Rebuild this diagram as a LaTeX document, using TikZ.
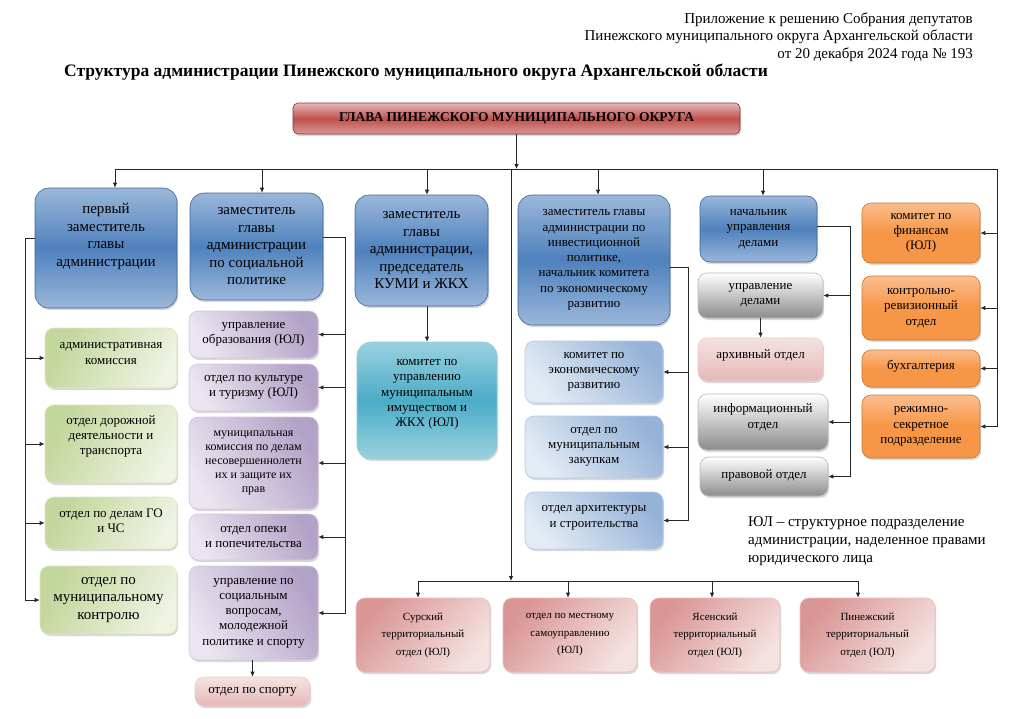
\documentclass[tikz,border=0pt]{standalone}
\usepackage{fontspec}
\setmainfont{Liberation Serif}
\usetikzlibrary{arrows.meta,shadows}
\definecolor{blueD}{HTML}{4F81BD}
\definecolor{blueL}{HTML}{9BB7DA}
\definecolor{redD}{HTML}{C0504D}
\definecolor{redL}{HTML}{E6B9B8}
\definecolor{greenD}{HTML}{C3D69B}
\definecolor{greenL}{HTML}{EEF3E2}
\definecolor{purpD}{HTML}{B3A2C7}
\definecolor{purpL}{HTML}{EAE5F0}
\definecolor{pinkD}{HTML}{D99694}
\definecolor{pinkL}{HTML}{F4E2E1}
\definecolor{greyD}{HTML}{8C8C8C}
\definecolor{orD}{HTML}{F79646}
\definecolor{orL}{HTML}{FBBE8E}
\definecolor{tealD}{HTML}{4BACC6}
\definecolor{tealL}{HTML}{9AD1E0}
\definecolor{iblueD}{HTML}{95B3D7}
\definecolor{iblueL}{HTML}{E3EBF5}
\tikzset{
  sz/.style 2 args={minimum width=#1pt,minimum height=#2pt},
  lift/.style={text depth=#1pt},
  box/.style={rounded corners=9pt,align=center,inner sep=2pt,line width=0.6pt,
    drop shadow={shadow xshift=1.2pt,shadow yshift=-2pt,opacity=.3}},
  big/.style={font=\fontsize{15}{17.5}\selectfont},
  mid/.style={font=\fontsize{13}{15.3}\selectfont},
  sml/.style={font=\fontsize{12}{14}\selectfont},
  chief/.style={box,rounded corners=5pt,draw=redD!70!black,top color=redL,bottom color=pinkD,middle color=redD,
    font=\bfseries\fontsize{13.5}{16}\selectfont},
  zam/.style={box,rounded corners=14pt,draw=blueD!80!black,top color=blueL,bottom color=blueL,middle color=blueD},
  grn/.style={box,draw=greenD!60,top color=greenD,bottom color=greenL,shading angle=60,mid},
  prp/.style={box,draw=purpD!60,top color=purpD,bottom color=purpL,shading angle=-60,mid},
  pnk/.style={box,draw=pinkD!60,top color=pinkD,bottom color=pinkL,shading angle=50,
    font=\fontsize{11}{17.5}\selectfont},
  lpnk/.style={box,draw=pinkD!50,top color=pinkL,bottom color=redL,mid},
  gry/.style={box,draw=greyD!60,top color=white,bottom color=greyD,mid},
  org/.style={box,draw=orD!80!black,top color=orL,bottom color=orD,middle color=orD,mid},
  tel/.style={box,rounded corners=14pt,draw=tealD!60,top color=tealL,bottom color=tealL,middle color=tealD,mid},
  ibl/.style={box,draw=iblueD!70,top color=iblueD,bottom color=iblueL,shading angle=-50,mid},
  hdr/.style={font=\fontsize{15}{17.5}\selectfont},
  wire/.style={black!85,line width=0.8pt},
  arr/.style={wire,-{Latex[length=5pt,width=4.5pt]}},
}
\begin{document}
\begin{tikzpicture}[x=1pt,y=-1pt]
  \useasboundingbox (0,0) rectangle (1024,718);
  \fill[white] (0,0) rectangle (1024,718);
  \node[hdr,anchor=north east,align=right,inner sep=0pt] (app) at (973,12.5) {Приложение к решению Собрания депутатов\\Пинежского муниципального округа Архангельской области\\от 20 декабря 2024 года № 193};
  \node[font=\bfseries\fontsize{17.5}{20}\selectfont,anchor=west,inner sep=0pt] (title) at (64,72) {Структура администрации Пинежского муниципального округа Архангельской области};
  \node[chief,sz={447}{31}] (head) at (516.5,118.5) {ГЛАВА ПИНЕЖСКОГО МУНИЦИПАЛЬНОГО ОКРУГА};
  \node[zam,big,lift=26,sz={142}{120}] (zam1) at (106,248) {первый\\заместитель\\главы\\администрации};
  \node[zam,big,sz={133}{107}] (zam2) at (256.5,246.5) {заместитель\\главы\\администрации\\по социальной\\политике};
  \node[zam,big,sz={133}{111}] (zam3) at (421.5,250.5) {заместитель\\главы\\администрации,\\председатель\\КУМИ и ЖКХ};
  \node[zam,mid,sz={152}{130}] (zam4) at (594,260) {заместитель главы\\администрации по\\инвестиционной\\политике,\\начальник комитета\\по экономическому\\развитию};
  \node[zam,mid,rounded corners=10pt,sz={117}{66}] (nud) at (758.5,229) {начальник\\управления\\делами};
  \node[grn,lift=9,sz={132}{60}] (adm) at (111,358) {административная\\комиссия};
  \node[grn,lift=18,sz={132}{78}] (dor) at (111,444) {отдел дорожной\\деятельности и\\транспорта};
  \node[grn,lift=5,sz={132}{52}] (go) at (111,523) {отдел по делам ГО\\и ЧС};
  \node[grn,big,sz={137}{68}] (mk) at (108.5,600) {отдел по\\муниципальному\\контролю};
  \node[prp,sz={129}{47}] (obr) at (253.5,334.5) {управление\\образования (ЮЛ)};
  \node[prp,sz={129}{47}] (kult) at (253.5,387.5) {отдел по культуре\\и туризму (ЮЛ)};
  \node[prp,sml,sz={129}{92}] (kdn) at (253.5,463) {муниципальная\\комиссия по делам\\несовершеннолетн\\их и защите их\\прав};
  \node[prp,sz={129}{46}] (opek) at (253.5,537) {отдел опеки\\и попечительства};
  \node[prp,sz={129}{94}] (soc) at (253.5,613) {управление по\\социальным\\вопросам,\\молодежной\\политике и спорту};
  \node[lpnk,sz={115}{29}] (sport) at (252.5,691.5) {отдел по спорту};
  \node[tel,lift=15,sz={140}{117}] (kumi) at (427,400.5) {комитет по\\управлению\\муниципальным\\имуществом и\\ЖКХ (ЮЛ)};
  \node[ibl,sz={138}{62}] (ker) at (594,372) {комитет по\\экономическому\\развитию};
  \node[ibl,sz={138}{62}] (zak) at (594,447) {отдел по\\муниципальным\\закупкам};
  \node[ibl,lift=8,sz={138}{57}] (arch) at (594,520.5) {отдел архитектуры\\и строительства};
  \node[gry,sz={125}{45}] (ud) at (760.5,295.5) {управление\\делами};
  \node[lpnk,lift=10,sz={125}{43}] (arhiv) at (760.5,359.5) {архивный отдел};
  \node[gry,lift=12,sz={130}{56}] (inf) at (763,422) {информационный\\отдел};
  \node[gry,lift=4,sz={128}{39}] (prav) at (764,476.5) {правовой отдел};
  \node[org,sz={118}{60}] (fin) at (921,233) {комитет по\\финансам\\(ЮЛ)};
  \node[org,sz={118}{64}] (kro) at (921,308) {контрольно-\\ревизионный\\отдел};
  \node[org,lift=8,sz={118}{37}] (buh) at (921,368.5) {бухгалтерия};
  \node[org,sz={118}{63}] (rs) at (921,426.5) {режимно-\\секретное\\подразделение};
  \node[pnk,sz={134}{74}] (sur) at (423,635) {Сурский\\территориальный\\отдел (ЮЛ)};
  \node[pnk,sz={134}{74}] (mest) at (570,635) {отдел по местному\\самоуправлению\\(ЮЛ)};
  \node[pnk,sz={130}{74}] (yas) at (715,635) {Ясенский\\территориальный\\отдел (ЮЛ)};
  \node[pnk,sz={135}{74}] (pin) at (867.5,635) {Пинежский\\территориальный\\отдел (ЮЛ)};
  \node[hdr,font=\fontsize{15}{18}\selectfont,anchor=north west,align=left,inner sep=0pt] (note) at (748,516) {ЮЛ – структурное подразделение\\администрации, наделенное правами\\юридического лица};
  \coordinate (bus) at (511,169);
  \coordinate (rb) at (997,169);
  \coordinate (bot) at (511,581);
  \coordinate (lb) at (25,238);
  \coordinate (sb) at (345,237);
  \coordinate (ib) at (688,267);
  \coordinate (nb) at (850,226);
  \draw[arr] (head.south) -- (head.south |- bus);
  \draw[wire] ([xshift=9pt]zam1.north |- bus) -- (bus);
  \draw[arr] (bus) -- (rb) |- (rs.east);
  \foreach \n in {fin,kro,buh} \draw[arr] (rb) |- (\n.east);
  \foreach \n/\s in {zam1/9,zam2/5.5,zam3/5.5,zam4/4,nud/4.5}
    \draw[arr] ([xshift=\s pt]\n.north |- bus) -- ([xshift=\s pt]\n.north);
  \draw[arr] ([yshift=10pt]zam1.west) -- (lb) |- (mk.west);
  \foreach \n in {adm,dor,go} \draw[arr] (lb) |- (\n.west);
  \draw[arr] ([yshift=9.5pt]zam2.east) -- (sb) |- (soc.east);
  \foreach \n in {obr,kult,kdn,opek} \draw[arr] (sb) |- (\n.east);
  \draw[arr] (sport.north |- soc.south) -- (sport.north);
  \draw[arr] (kumi.north |- zam3.south) -- (kumi.north);
  \draw[arr] ([yshift=-7pt]zam4.east) -- (ib) |- (arch.east);
  \foreach \n in {ker,zak} \draw[arr] (ib) |- (\n.east);
  \draw[arr] ([yshift=3pt]nud.east) -- (nb) |- (prav.east);
  \foreach \n in {ud,inf} \draw[arr] (nb) |- (\n.east);
  \draw[arr] (ud.south) -- (arhiv.north);
  \draw[arr] (bus) -- (bot);
  \draw[wire] ([xshift=-5pt]sur.north |- bot) -- ([xshift=-9.5pt]pin.north |- bot);
  \foreach \n/\s in {sur/-5,mest/-2,yas/-3,pin/-9.5}
    \draw[arr] ([xshift=\s pt]\n.north |- bot) -- ([xshift=\s pt]\n.north);
\end{tikzpicture}
\end{document}
